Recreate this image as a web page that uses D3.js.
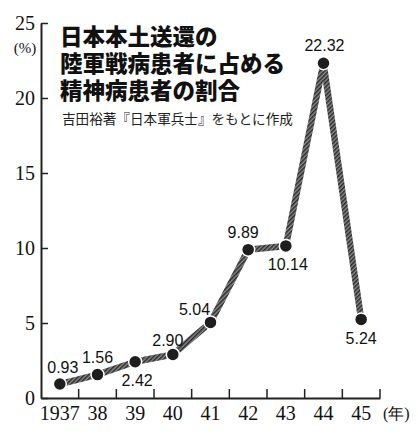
<!DOCTYPE html>
<html>
<head>
<meta charset="utf-8">
<script src="https://cdn.jsdelivr.net/npm/d3@7"></script>
<style>
  body { margin: 0; background: #fff; }
</style>
</head>
<body>
<svg id="chart"></svg>
<script>
const years = ["1937", "38", "39", "40", "41", "42", "43", "44", "45"];
const ratios = [0.93, 1.56, 2.42, 2.9, 5.04, 9.89, 10.14, 22.32, 5.24];
const valueLabels = ["0.93", "1.56", "2.42", "2.90", "5.04", "9.89", "10.14", "22.32", "5.24"];
const yTicks = [0, 5, 10, 15, 20, 25];
const titleLines = ["日本本土送還の", "陸軍戦病患者に占める", "精神病患者の割合"];
const sourceNote = "吉田裕著『日本軍兵士』をもとに作成";

// label offsets from each point (dx, dy)
const labelPos = [[3, -11], [0, -12], [2, 24], [-5, -9], [-16, -7], [-5, -12], [2, 24], [1, -12], [0, 25]];

const width = 418;
const height = 434;
const svg = d3.select("#chart").attr("width", width).attr("height", height);

const x = d3.scaleBand().domain(years).range([41, 380]).padding(0);
const y = d3.scaleLinear().domain([0, 25]).range([398, 23]);

const serif = "'Liberation Serif', 'DejaVu Serif', serif";
const sans = "'Liberation Sans', Arial, sans-serif";
const cjk = "'Noto Sans CJK JP', sans-serif";

// hatched texture for the line
const defs = svg.append("defs");
const pat = defs.append("pattern")
  .attr("id", "hatch")
  .attr("patternUnits", "userSpaceOnUse")
  .attr("width", 3).attr("height", 3)
  .attr("patternTransform", "rotate(45)");
pat.append("rect").attr("width", 3).attr("height", 3).attr("fill", "#8a8a8a");
pat.append("rect").attr("width", 1.5).attr("height", 3).attr("fill", "#2a2a2a");

// Y axis
const yAxis = svg.append("g")
  .attr("transform", "translate(41,0)")
  .call(d3.axisLeft(y).tickValues(yTicks).tickSize(-7).tickSizeOuter(0).tickPadding(6));
yAxis.select(".domain").attr("stroke", "#222").attr("stroke-width", 2);
yAxis.selectAll(".tick line").attr("stroke", "#222").attr("stroke-width", 1.5);
yAxis.selectAll(".tick text")
  .style("font-family", serif).style("font-size", "20px").attr("fill", "#111");

// X axis
const xAxis = svg.append("g")
  .attr("transform", "translate(0,398)")
  .call(d3.axisBottom(x).tickSize(0).tickSizeOuter(0).tickPadding(8));
xAxis.select(".domain").attr("stroke", "#222").attr("stroke-width", 2);
xAxis.selectAll(".tick text")
  .style("font-family", serif).style("font-size", "20px").attr("fill", "#111");

// boundary ticks on x axis
svg.append("g")
  .selectAll("line")
  .data(years)
  .join("line")
  .attr("x1", d => x(d) + x.bandwidth())
  .attr("x2", d => x(d) + x.bandwidth())
  .attr("y1", 398)
  .attr("y2", 389)
  .attr("stroke", "#222")
  .attr("stroke-width", 1.5);

// unit labels
svg.append("text")
  .attr("x", 25).attr("y", 53)
  .attr("text-anchor", "middle")
  .style("font-family", serif).style("font-size", "15px").attr("fill", "#111")
  .text("(%)");

svg.append("text")
  .attr("x", 383).attr("y", 419)
  .style("font-family", serif).style("font-size", "16px").attr("fill", "#111")
  .text("(年)");

// title
svg.append("g")
  .selectAll("text")
  .data(titleLines)
  .join("text")
  .attr("x", 60)
  .attr("y", (d, i) => 45 + i * 27)
  .style("font-family", cjk).style("font-size", "22.5px").style("font-weight", "900")
  .attr("fill", "#111")
  .text(d => d);

svg.append("text")
  .attr("x", 62).attr("y", 124)
  .style("font-family", cjk).style("font-size", "13.6px")
  .attr("fill", "#222")
  .text(sourceNote);

// line
const points = years.map((yr, i) => ({ year: yr, value: ratios[i], label: valueLabels[i], pos: labelPos[i] }));
const cx = d => x(d.year) + x.bandwidth() / 2;

const line = d3.line().x(cx).y(d => y(d.value));

svg.append("path")
  .datum(points)
  .attr("fill", "none")
  .attr("stroke", "#fff")
  .attr("stroke-width", 9)
  .attr("stroke-linejoin", "round")
  .attr("d", line);

svg.append("path")
  .datum(points)
  .attr("fill", "none")
  .attr("stroke", "url(#hatch)")
  .attr("stroke-width", 6.5)
  .attr("stroke-linejoin", "round")
  .attr("d", line);

// dots
svg.selectAll(".dot")
  .data(points)
  .join("circle")
  .attr("class", "dot")
  .attr("cx", cx)
  .attr("cy", d => y(d.value))
  .attr("r", 6.5)
  .attr("fill", "#1e1e1e")
  .attr("stroke", "#fff")
  .attr("stroke-width", 1.5);

// value labels
svg.selectAll(".val")
  .data(points)
  .join("text")
  .attr("class", "val")
  .attr("x", d => cx(d) + d.pos[0])
  .attr("y", d => y(d.value) + d.pos[1])
  .attr("text-anchor", "middle")
  .style("font-family", sans).style("font-size", "16px")
  .attr("fill", "#111")
  .text(d => d.label);
</script>
</body>
</html>
